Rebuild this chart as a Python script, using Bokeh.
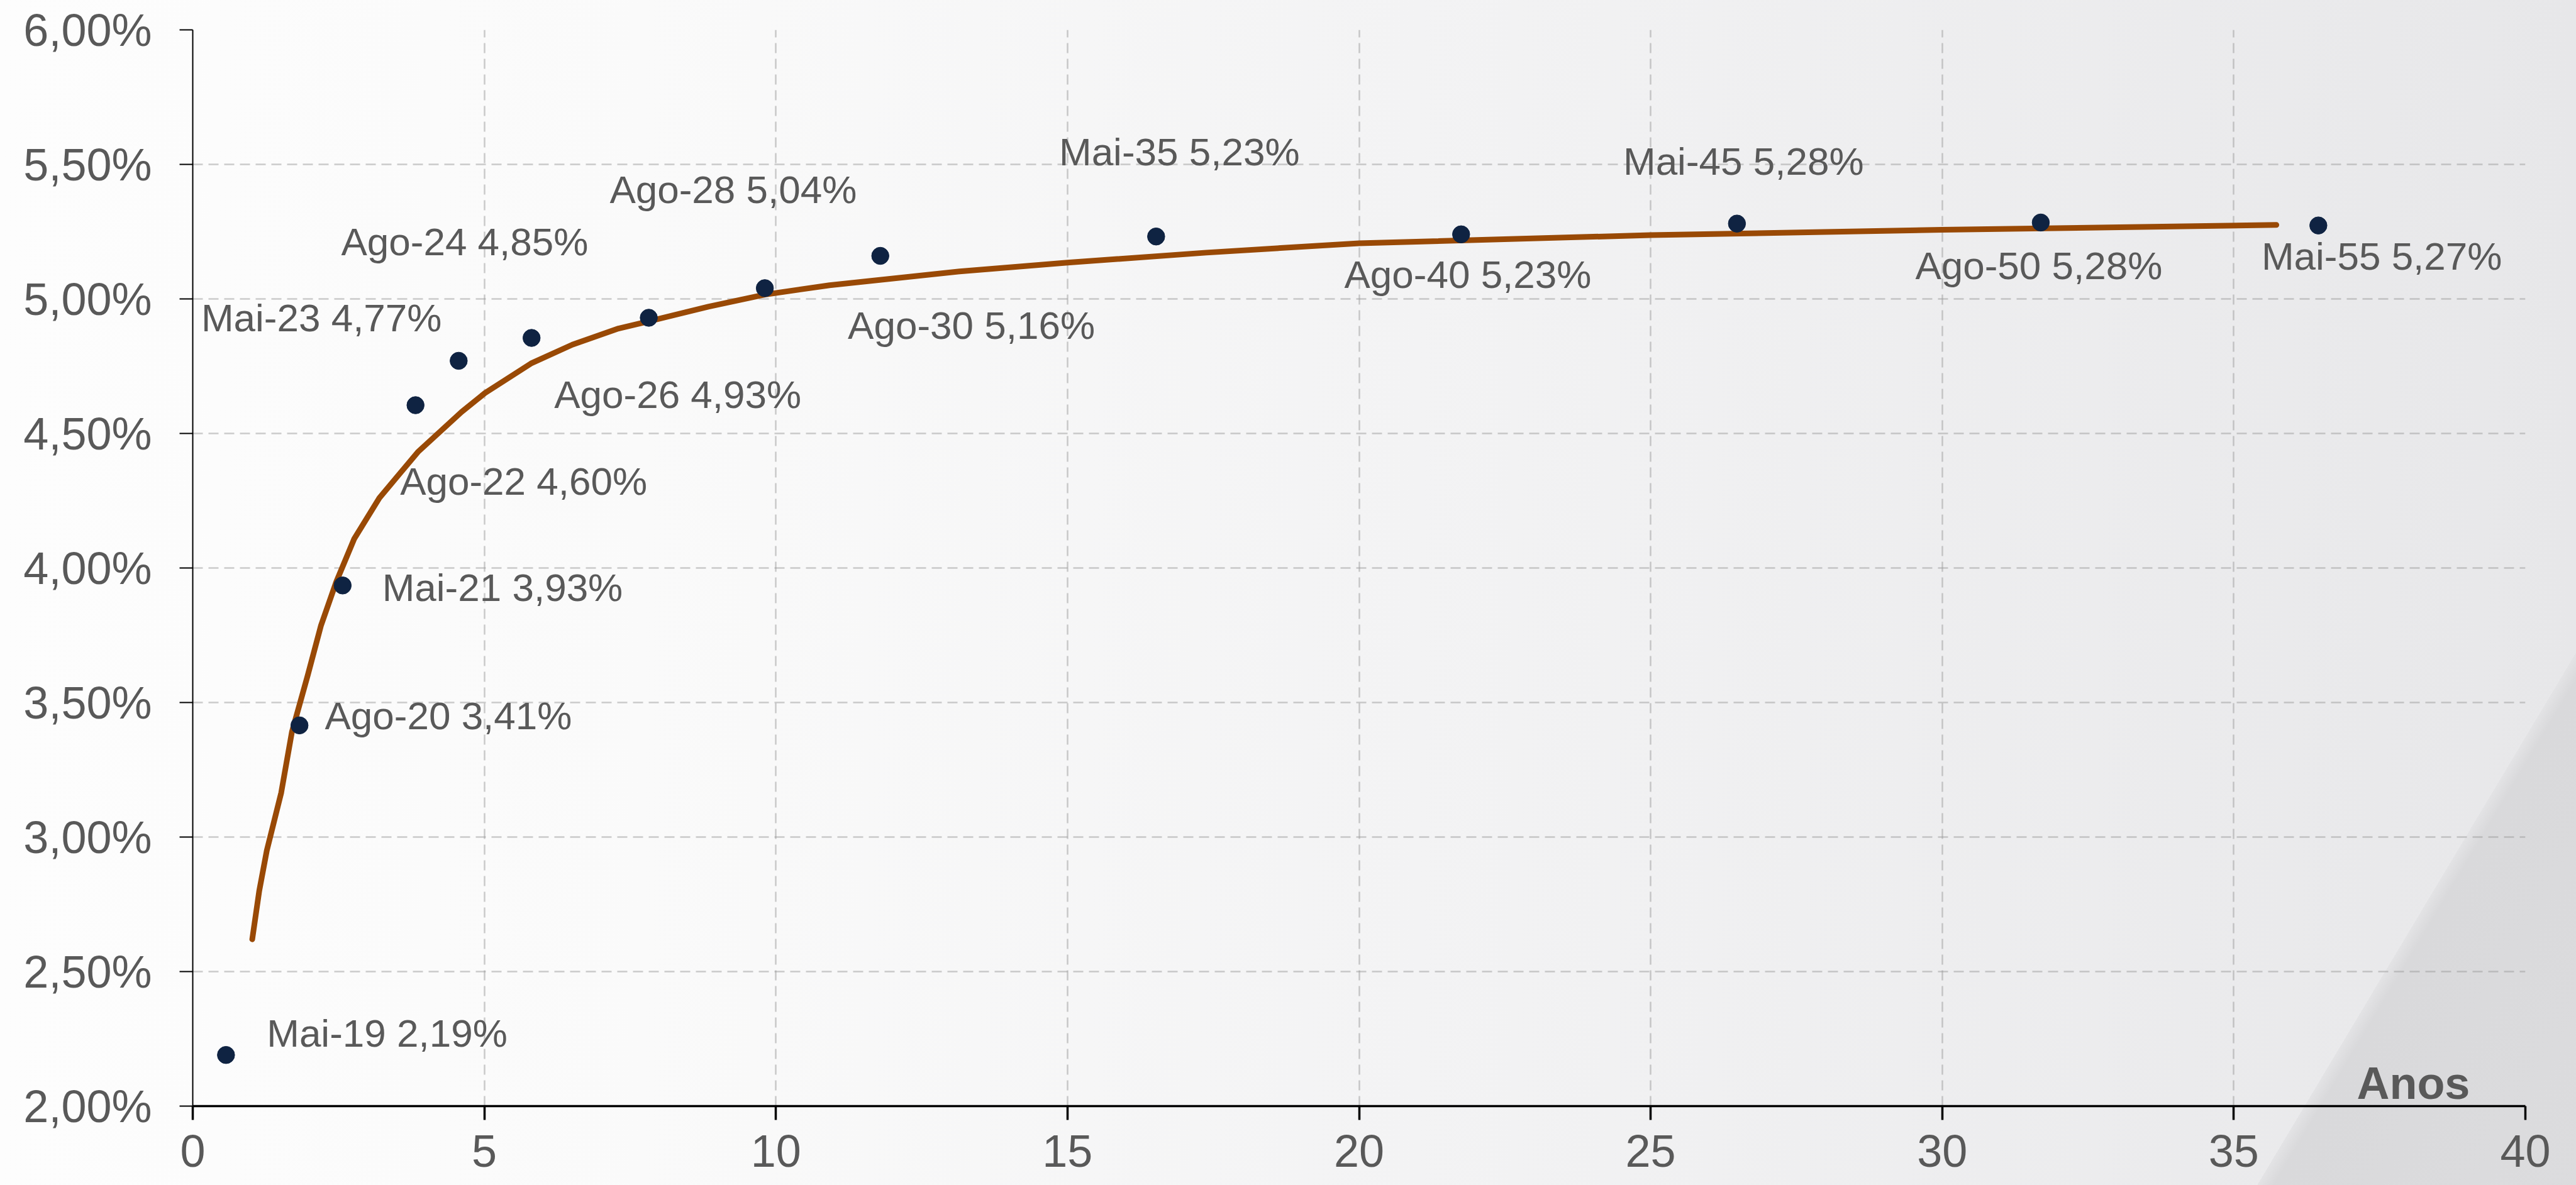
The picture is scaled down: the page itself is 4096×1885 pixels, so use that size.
from bokeh.plotting import figure
from bokeh.models import FixedTicker, Label, ColumnDataSource, CustomJSTickFormatter
from bokeh.core.properties import value
from bokeh.embed import file_html
from bokeh.resources import INLINE

# ---------------- data ----------------
bond_names = ["Mai-19", "Ago-20", "Mai-21", "Ago-22", "Mai-23", "Ago-24", "Ago-26",
              "Ago-28", "Ago-30", "Mai-35", "Ago-40", "Mai-45", "Ago-50", "Mai-55"]
maturity_years = [0.57, 1.83, 2.57, 3.82, 4.56, 5.81, 7.82,
                  9.81, 11.79, 16.52, 21.75, 26.48, 31.69, 36.45]
yields_pct = [2.19, 3.415, 3.935, 4.605, 4.77, 4.855, 4.93,
              5.04, 5.16, 5.232, 5.24, 5.28, 5.284, 5.273]
yield_text = ["2,19%", "3,41%", "3,93%", "4,60%", "4,77%", "4,85%", "4,93%",
              "5,04%", "5,16%", "5,23%", "5,23%", "5,28%", "5,28%", "5,27%"]

curve_years = [1.02, 1.14, 1.27, 1.516, 1.70, 1.97, 2.20, 2.46, 2.77, 3.20, 3.43, 3.86, 4.61,
               5.01, 5.80, 6.51, 7.30, 7.82, 8.84, 9.81, 10.92, 13.15, 15.0, 17.38,
               20.0, 25.0, 30.0, 35.73]
curve_yields = [2.62, 2.80, 2.95, 3.164, 3.39, 3.60, 3.787, 3.948, 4.109, 4.26, 4.32, 4.431, 4.58,
                4.65, 4.76, 4.83, 4.89, 4.917, 4.971, 5.016, 5.051, 5.102, 5.135, 5.172,
                5.207, 5.237, 5.257, 5.275]

x_ticks = [0, 5, 10, 15, 20, 25, 30, 35, 40]
y_ticks = [2.0, 2.5, 3.0, 3.5, 4.0, 4.5, 5.0, 5.5, 6.0]
y_tick_labels = ["2,00%", "2,50%", "3,00%", "3,50%", "4,00%", "4,50%", "5,00%", "5,50%", "6,00%"]
x_title = "Anos"

# label placement (pixel offsets from each point, reference scale; baseline of text)
label_dx = [66, 41, 64, -25, -416.5, -308, -153, -251, -52.5, -157, -189, -184, -203, -92]
label_dy = [-15, 5, 24, 143, -49, -135, 144, -139, 132.6, -117, 85, -81, 90, 70.5]
BASELINE_FIX = -20  # screen px

S = 0.983
W, H = 4096, 1885

p = figure(width=W, height=H, x_range=(0, 40), y_range=(2, 6),
           output_backend="svg", toolbar_location=None,
           min_border_left=306, min_border_right=81, min_border_top=47, min_border_bottom=126)
p.background_fill_color = None
p.border_fill_color = None
p.outline_line_color = None
p.styles = {
    "background": ("linear-gradient(120.9deg, rgba(0,0,0,0) 90.3%, #e3e3e5 90.3%, "
                   "#d9d9db 90.8%, #dcdcde 100%), "
                   "linear-gradient(90deg, #fdfdfd 0%, #fafafa 25%, #f3f3f4 55%, #e7e7e9 100%)")
}

font = "Liberation Sans"
txt_color = "#595959"

# axes
p.xaxis.ticker = FixedTicker(ticks=x_ticks)
p.yaxis.ticker = FixedTicker(ticks=y_ticks)
p.yaxis.formatter = CustomJSTickFormatter(
    args=dict(tick_vals=y_ticks, tick_txt=y_tick_labels),
    code="const i = tick_vals.findIndex(t => Math.abs(t - tick) < 1e-9); return i >= 0 ? tick_txt[i] : '';")
for ax in (p.xaxis, p.yaxis):
    ax.major_label_text_font = font
    ax.major_label_text_font_size = "72px"
    ax.major_label_text_color = txt_color
    ax.axis_line_color = "black"
    ax.major_tick_line_color = "black"
    ax.minor_tick_line_color = None
    ax.major_tick_in = 0
p.yaxis.axis_line_width = 2
p.yaxis.major_tick_line_width = 2
p.yaxis.major_tick_out = 21
p.yaxis.major_label_standoff = 44
p.xaxis.axis_line_width = 3.5
p.xaxis.major_tick_line_width = 3.5
p.xaxis.major_tick_out = 22
p.xaxis.major_label_standoff = 24

for g in (p.xgrid, p.ygrid):
    g.grid_line_color = "#9a9a9a"
    g.grid_line_alpha = 0.5
    g.grid_line_width = 2.5
    g.grid_line_dash = "16 9"

# curve
p.line(curve_years, curve_yields, line_color="#994905", line_width=9,
       line_cap="round", line_join="round")

# points
p.scatter(maturity_years, yields_pct, size=27.5, marker="circle",
          fill_color="#0f2342", line_color="#0f2342")

# labels
src = ColumnDataSource(dict(
    x=maturity_years, y=yields_pct,
    text=[f"{n} {t}" for n, t in zip(bond_names, yield_text)],
    dx=[d * S for d in label_dx], dy=[d * S + BASELINE_FIX for d in label_dy],
))
p.text(x="x", y="y", text="text", x_offset="dx", y_offset="dy", source=src,
       text_font=value(font), text_font_size=value("62px"), text_color=txt_color,
       text_align="left", text_baseline="alphabetic")

p.add_layout(Label(x=39.05, y=2.085, text=x_title, text_font=font, text_font_style="bold",
                   text_font_size="72px", text_color=txt_color,
                   text_align="right", text_baseline="alphabetic"))

open("out.html", "w").write(file_html(p, INLINE, title="Curva"))
